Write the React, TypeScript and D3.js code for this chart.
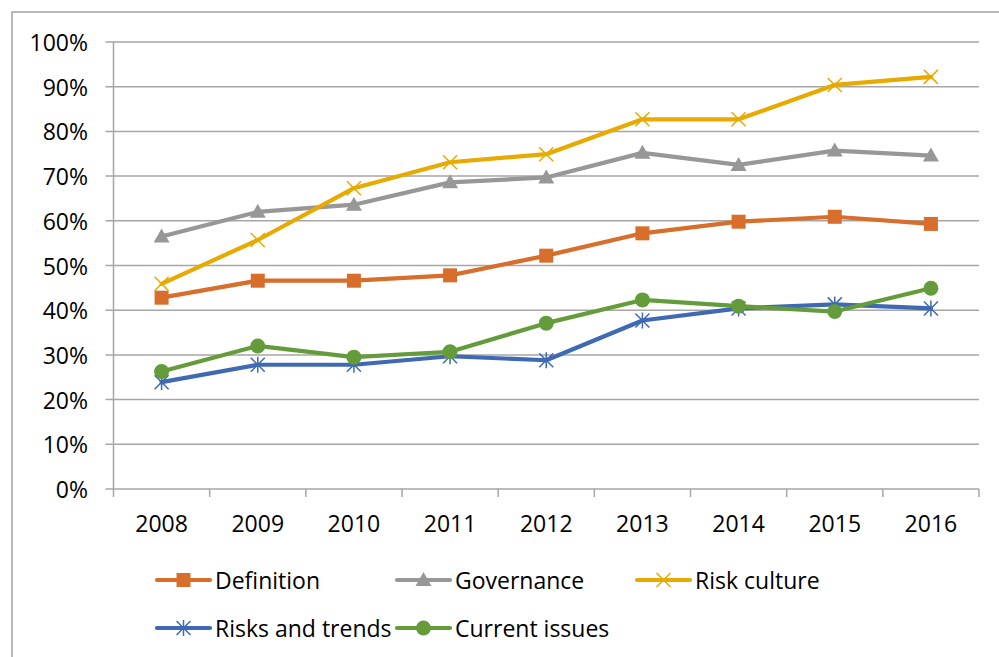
import React from "react";
import * as d3 from "d3";

const years = ["2008", "2009", "2010", "2011", "2012", "2013", "2014", "2015", "2016"];
const definition = [0.428, 0.466, 0.466, 0.478, 0.522, 0.572, 0.598, 0.609, 0.593];
const governance = [0.565, 0.62, 0.636, 0.686, 0.697, 0.752, 0.725, 0.757, 0.746];
const riskCulture = [0.459, 0.557, 0.673, 0.731, 0.749, 0.827, 0.827, 0.904, 0.922];
const risksTrends = [0.239, 0.278, 0.278, 0.297, 0.288, 0.377, 0.404, 0.413, 0.404];
const currentIssues = [0.263, 0.32, 0.295, 0.307, 0.371, 0.423, 0.409, 0.397, 0.449];
const yTicks = [0, 0.1, 0.2, 0.3, 0.4, 0.5, 0.6, 0.7, 0.8, 0.9, 1.0];

type Marker = "square" | "triangle" | "x" | "star" | "circle";
const series: { name: string; values: number[]; color: string; marker: Marker }[] = [
  { name: "Definition", values: definition, color: "#D86E2B", marker: "square" },
  { name: "Governance", values: governance, color: "#979797", marker: "triangle" },
  { name: "Risk culture", values: riskCulture, color: "#E6AA00", marker: "x" },
  { name: "Risks and trends", values: risksTrends, color: "#3F69B2", marker: "star" },
  { name: "Current issues", values: currentIssues, color: "#649C3B", marker: "circle" },
];

const FONT = "'Open Sans', 'Noto Sans', sans-serif";
const FS = 23;

function MarkerShape({ type, x, y, color }: { type: Marker; x: number; y: number; color: string }) {
  const s = 7;
  switch (type) {
    case "square":
      return <rect x={x - s} y={y - s} width={2 * s} height={2 * s} fill={color} />;
    case "triangle":
      return (
        <path
          d={`M${x},${y - 8} L${x + 8},${y + 6} L${x - 8},${y + 6} Z`}
          fill={color}
        />
      );
    case "x":
      return (
        <path
          d={`M${x - s},${y - s} L${x + s},${y + s} M${x - s},${y + s} L${x + s},${y - s}`}
          stroke={color}
          strokeWidth={1.5}
          fill="none"
        />
      );
    case "star":
      return (
        <path
          d={`M${x - s},${y - s} L${x + s},${y + s} M${x - s},${y + s} L${x + s},${y - s} M${x},${y - s - 1} L${x},${y + s + 1}`}
          stroke={color}
          strokeWidth={1.5}
          fill="none"
        />
      );
    case "circle":
      return <circle cx={x} cy={y} r={7.5} fill={color} />;
  }
}

export default function App() {
  const width = 999;
  const height = 657;
  const left = 113.5;
  const right = 979;
  const top = 42;
  const bottom = 489;

  const x = d3.scaleBand<string>().domain(years).range([left, right]).padding(0);
  const y = d3.scaleLinear().domain([0, 1]).range([bottom, top]);
  const line = d3
    .line<number>()
    .x((_, i) => (x(years[i]) as number) + x.bandwidth() / 2)
    .y((d) => y(d));

  const pct = d3.format(".0%");
  const gridColor = "#A6A6A6";

  const legendCols = [157, 397, 637];
  const legendRows = [580, 628];

  return (
    <svg
      width={width}
      height={height}
      style={{ position: "absolute", left: 0, top: 0, background: "#fff" }}
    >
      <rect x={12} y={12} width={width + 10} height={height + 10} fill="#fff" stroke="#8C8C8C" strokeWidth={1.2} />
      {yTicks.map((t) => (
        <g key={t}>
          <line x1={left - 8} x2={right} y1={y(t)} y2={y(t)} stroke={gridColor} strokeWidth={1.5} />
          <text
            x={88}
            y={y(t)}
            textAnchor="end"
            dominantBaseline="central"
            fontFamily={FONT}
            fontSize={FS}
            fill="#000"
          >
            {pct(t)}
          </text>
        </g>
      ))}
      <line x1={left} x2={left} y1={top} y2={bottom} stroke={gridColor} strokeWidth={1.5} />
      {years.map((yr) => (
        <line
          key={"t" + yr}
          x1={x(yr) as number}
          x2={x(yr) as number}
          y1={bottom}
          y2={bottom + 8}
          stroke={gridColor}
          strokeWidth={1.5}
        />
      ))}
      <line x1={right} x2={right} y1={bottom} y2={bottom + 8} stroke={gridColor} strokeWidth={1.5} />
      {years.map((yr) => (
        <text
          key={"l" + yr}
          x={(x(yr) as number) + x.bandwidth() / 2}
          y={532}
          textAnchor="middle"
          fontFamily={FONT}
          fontSize={FS}
          fill="#000"
        >
          {yr}
        </text>
      ))}
      {series.map((s) => (
        <g key={s.name}>
          <path
            d={line(s.values) || ""}
            fill="none"
            stroke={s.color}
            strokeWidth={4.2}
            strokeLinejoin="round"
            strokeLinecap="round"
          />
          {s.values.map((v, i) => (
            <MarkerShape
              key={i}
              type={s.marker}
              x={(x(years[i]) as number) + x.bandwidth() / 2}
              y={y(v)}
              color={s.color}
            />
          ))}
        </g>
      ))}
      {series.map((s, i) => {
        const lx = legendCols[i % 3];
        const ly = legendRows[Math.floor(i / 3)];
        return (
          <g key={"lg" + s.name}>
            <line x1={lx} x2={lx + 53} y1={ly} y2={ly} stroke={s.color} strokeWidth={4.2} strokeLinecap="round" />
            <MarkerShape type={s.marker} x={lx + 26.5} y={ly} color={s.color} />
            <text
              x={lx + 58}
              y={ly}
              dominantBaseline="central"
              fontFamily={FONT}
              fontSize={FS}
              fill="#000"
            >
              {s.name}
            </text>
          </g>
        );
      })}
    </svg>
  );
}
